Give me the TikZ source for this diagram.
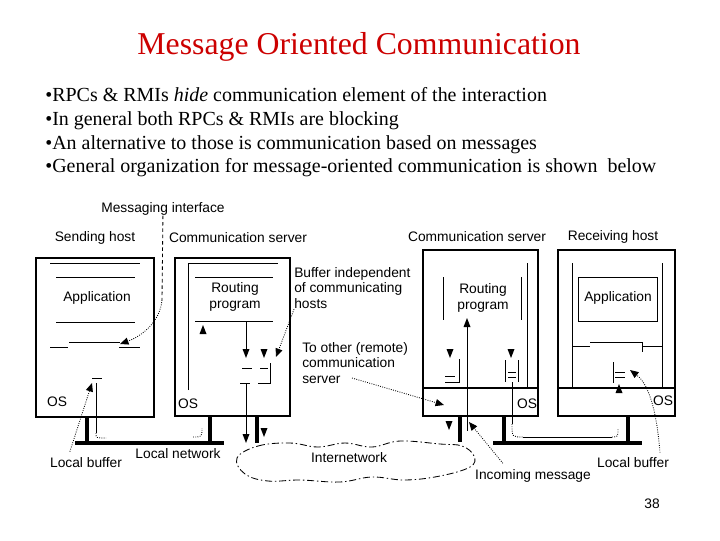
\documentclass[tikz,border=0pt]{standalone}
\usepackage{fontspec}
\setmainfont{Liberation Serif}
\setsansfont{Liberation Sans}
\usetikzlibrary{arrows.meta,positioning}
\definecolor{titlered}{RGB}{204,0,0}
\tikzset{
    box/.style={line width=0.9pt},
    fine/.style={line width=0.6pt},
    stand/.style={line width=2.6pt},
    corner/.style={fine, densely dotted},
    pointer/.style={fine, densely dotted, -{Triangle[length=6pt,width=5pt]}},
    diag text/.style={font=\sffamily\fontsize{9.8}{11.3}\selectfont, inner sep=0pt},
    bullet line/.style={font=\fontsize{14.2}{17}\selectfont, inner sep=0pt, anchor=base west},
}
\newcommand{\headup}[1]{\fill (#1) -- ++(-3.5,9) -- ++(7,0) -- cycle;}
\newcommand{\headdown}[1]{\fill (#1) -- ++(-3.5,-9) -- ++(7,0) -- cycle;}

\begin{document}
\begin{tikzpicture}[x=0.025cm, y=-0.025cm]
    \useasboundingbox (0,0) rectangle (720,540);

    % title and bullets
    \node[font=\fontsize{22.6}{26}\selectfont, text=titlered, inner sep=0pt] (title) at (359,47) {Message Oriented Communication};
    \node[bullet line] (b1) at (45,101) {•RPCs \& RMIs \textit{hide} communication element of the interaction};
    \node[bullet line] (b2) at (45,125) {•In general both RPCs \& RMIs are blocking};
    \node[bullet line] (b3) at (45,149) {•An alternative to those is communication based on messages};
    \node[bullet line] (b4) at (45,172) {•General organization for message-oriented communication is shown\ \ below};

    % headings
    \node[diag text] (msgif) at (163,209) {Messaging interface};
    \node[diag text] (sendhost) at (95,238) {Sending host};
    \node[diag text] (server1) at (238,238) {Communication server};
    \node[diag text] (server2) at (477,237) {Communication server};
    \node[diag text] (recvhost) at (613,237) {Receiving host};

    % sending host
    \draw[box] (36,258) rectangle (154,417);
    \draw[fine] (50,263) -- (140,263) (56,277) -- (135,277) (56,322) -- (135,322);
    \draw[fine] (50,347) -- (68,347) (69,342) -- (120,342) (119,347) -- (140,347);
    \draw[fine] (92,378) -- (102,378) (96,383) -- (96,433);
    \draw[corner] (96,433) .. controls (96,438) .. (106,438);
    \node[diag text] (app1) at (97,298) {Application};
    \node[diag text] (os1) at (57,402) {OS};
    \draw[stand] (87,417) -- (87,444);

    % left communication server
    \draw[box] (175,258) rectangle (290,416);
    \draw[fine] (188,390) -- (188,263) -- (278,263);
    \draw[fine] (195,277) -- (273,277) (195,321) -- (273,321);
    \node[diag text, align=center] (route1) at (235,297) {Routing\\program};
    \headup{203,325}
    \draw[fine] (246,321) -- (246,350);
    \headdown{246,358}
    \headdown{264,358}
    \draw[fine] (242,368) -- (252,368) (260,368) -- (268,368);
    \draw[fine] (258,383) -- (270,383) -- (270,363) (240,383) -- (250,383);
    \draw[fine] (246,383) -- (246,436);
    \headdown{246,443}
    \node[diag text] (os2) at (188,404) {OS};
    \draw[stand] (210,416) -- (210,444) (257,416) -- (257,443);
    \headdown{264,437}
    \draw[corner] (193,437) .. controls (202,437) .. (202,428);

    % local network of the sender
    \draw[stand] (75,443) -- (224,443);

    % right communication server
    \draw[box] (423,250) rectangle (538,416);
    \draw[box] (423,388) -- (538,388);
    \draw[fine] (527,263) -- (527,388);
    \draw[fine] (443,277) -- (443,320) (521,277) -- (521,320);
    \node[diag text, align=center] (route2) at (483,298) {Routing\\program};
    \headup{467,318}
    \draw[fine] (467,327) -- (467,431);
    \headdown{450,358}
    \draw[fine] (445,376) -- (455,376) (445,382) -- (459,382) -- (459,359);
    \headdown{511,358}
    \draw[fine] (505,360) -- (505,382) (518,360) -- (518,382);
    \draw[fine] (508,372) -- (516,372) (508,377) -- (516,377);
    \draw[fine] (512,382) -- (512,424);
    \node[diag text] (os3) at (527,404) {OS};
    \draw[stand] (460,416) -- (460,442) (504,416) -- (504,444);
    \headdown{449,430}

    % local network of the receiver
    \draw[stand] (493,443) -- (642,443);
    \draw[corner] (512,424) .. controls (512,437) .. (523,437);
    \draw[fine] (523,437) -- (612,437);
    \draw[corner] (612,437) .. controls (618,437) .. (618,428);

    % receiving host
    \draw[box] (558,250) rectangle (675,416);
    \draw[box] (558,388) -- (675,388);
    \draw[fine] (572,263) -- (572,388) (662,263) -- (662,388);
    \draw[fine] (578,277) rectangle (657,321);
    \node[diag text] (app2) at (618,298) {Application};
    \draw[fine] (572,346) -- (590,346) (590,342) -- (642,342) -- (642,352) (642,346) -- (662,346);
    \draw[fine] (613,362) -- (613,383);
    \draw[fine] (615,372) -- (625,372) (615,377) -- (625,377);
    \headup{619,384}
    \node[diag text] (os4) at (663,401) {OS};
    \draw[stand] (628,416) -- (628,444);

    % internetwork cloud
    \draw[fine, dash pattern=on 5pt off 2pt on 1pt off 2pt] plot[smooth cycle, tension=0.65] coordinates {
        (237,458) (258,446) (290,443) (318,447) (345,443) (372,447) (400,441) (440,444) (462,446) (474,456)
        (470,467) (440,476) (405,480) (372,477) (340,482) (300,480) (268,481) (245,474)};
    \node[diag text] (inet) at (349,458) {Internetwork};

    % annotations
    \node[diag text, align=left, anchor=west] (bufind) at (294,288) {Buffer independent\\of communicating\\hosts};
    \node[diag text, align=left, anchor=west] (toother) at (302,363) {To other (remote)\\communication\\server};
    \node[diag text] (lbuf1) at (86,463) {Local buffer};
    \node[diag text] (lnet) at (178,454) {Local network};
    \node[diag text] (inmsg) at (533,476) {Incoming message};
    \node[diag text] (lbuf2) at (633,463) {Local buffer};
    \node[diag text] (page) at (652,504) {38};

    \coordinate (mi bend) at (162,300);
    \coordinate (mi tip) at (120,344);
    \coordinate (ot from) at (352,378);
    \draw[fine, dash pattern=on 2.5pt off 2pt] (msgif) -- (mi bend);
    \draw[pointer] (mi bend) .. controls (160,322) and (142,336) .. (mi tip);
    \draw[pointer] (bufind.south west) -- (276,357);
    \draw[pointer] (ot from) -- (444,405);
    \draw[pointer] ([shift={(20,-6)}]lbuf1.north west) -- (92,383);
    \draw[pointer] ([shift={(28,-6)}]inmsg.north west) -- (469,422);
    \draw[pointer] ([shift={(27,-5)}]lbuf2.north) .. controls (657,415) and (650,385) .. (630,370);
\end{tikzpicture}
\end{document}
